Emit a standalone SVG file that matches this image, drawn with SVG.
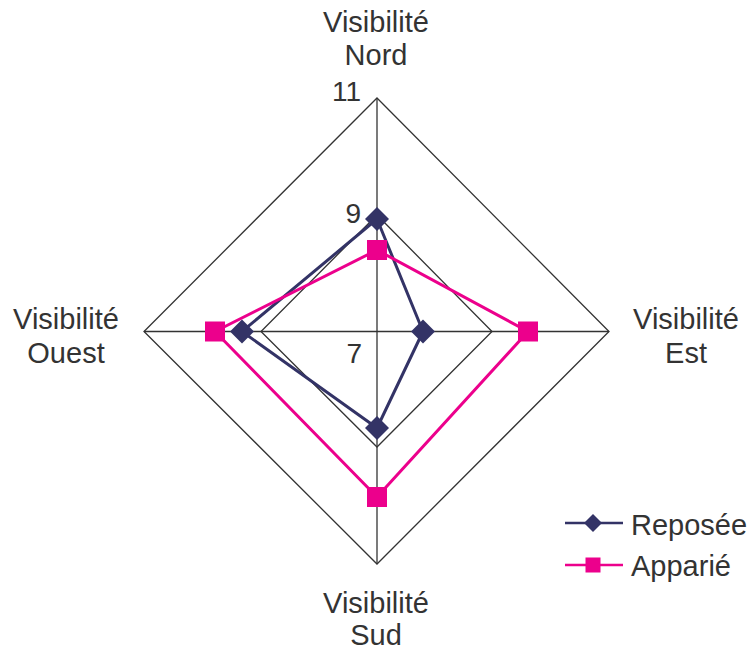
<svg xmlns="http://www.w3.org/2000/svg" width="750" height="653" viewBox="0 0 750 653">
<style>
text{font-family:"Liberation Sans",Arial,sans-serif;font-size:29px;fill:#333333}
text.num{font-size:28px}
.grid{fill:none;stroke:#333333;stroke-width:1.3}
.rep{fill:none;stroke:#333366;stroke-width:3;stroke-linejoin:round}
.app{fill:none;stroke:#EC008C;stroke-width:3;stroke-linejoin:round}
.mrep{fill:#333366}
.mapp{fill:#EC008C}
</style>
<defs>
<path id="dia" d="M0,-12 L12,0 L0,12 L-12,0 Z"/>
<rect id="sq" x="-10" y="-10" width="20" height="20"/>
<path id="dias" d="M0,-9 L9,0 L0,9 L-9,0 Z"/>
<rect id="sqs" x="-7.5" y="-7.5" width="15" height="15"/>
</defs>
<rect width="750" height="653" fill="#ffffff"/>
<g id="grid">
<polygon class="grid" points="377,98 609,331.5 377,564 144,331.5"/>
<polygon class="grid" points="377,215 492,331.5 377,447 261,331.5"/>
<line class="grid" x1="377" y1="98" x2="377" y2="564"/>
<line class="grid" x1="144" y1="331.5" x2="609" y2="331.5"/>
</g>
<g id="scale">
<text class="num" x="361" y="101" text-anchor="end">11</text>
<text class="num" x="361" y="223" text-anchor="end">9</text>
<text class="num" x="362" y="363" text-anchor="end">7</text>
</g>
<g id="label-nord">
<text x="376" y="32" text-anchor="middle">Visibilité</text>
<text x="376" y="65" text-anchor="middle">Nord</text>
</g>
<g id="label-est">
<text x="686" y="329" text-anchor="middle">Visibilité</text>
<text x="686" y="363" text-anchor="middle">Est</text>
</g>
<g id="label-sud">
<text x="376" y="613" text-anchor="middle">Visibilité</text>
<text x="376" y="645" text-anchor="middle">Sud</text>
</g>
<g id="label-ouest">
<text x="66" y="329" text-anchor="middle">Visibilité</text>
<text x="66" y="363" text-anchor="middle">Ouest</text>
</g>
<g id="connectors">
<polygon id="series-reposee" class="rep" points="377,219 423,331.5 377,428 242,331.5"/>
<polygon id="series-apparie" class="app" points="377,250 528,331.5 377,497 215,331.5"/>
</g>
<g id="markers-reposee" class="mrep">
<use href="#dia" x="377" y="219"/>
<use href="#dia" x="423" y="331.5"/>
<use href="#dia" x="377" y="428"/>
<use href="#dia" x="242" y="331.5"/>
</g>
<g id="markers-apparie" class="mapp">
<use href="#sq" x="377" y="250"/>
<use href="#sq" x="528" y="331.5"/>
<use href="#sq" x="377" y="497"/>
<use href="#sq" x="215" y="331.5"/>
</g>
<g id="legend">
<line x1="565" y1="523" x2="623" y2="523" stroke="#333366" stroke-width="2.5"/>
<use href="#dias" x="593" y="523" class="mrep"/>
<text x="631" y="535">Reposée</text>
<line x1="565" y1="565" x2="623" y2="565" stroke="#EC008C" stroke-width="2.5"/>
<use href="#sqs" x="593" y="565" class="mapp"/>
<text x="631" y="576">Apparié</text>
</g>
</svg>
